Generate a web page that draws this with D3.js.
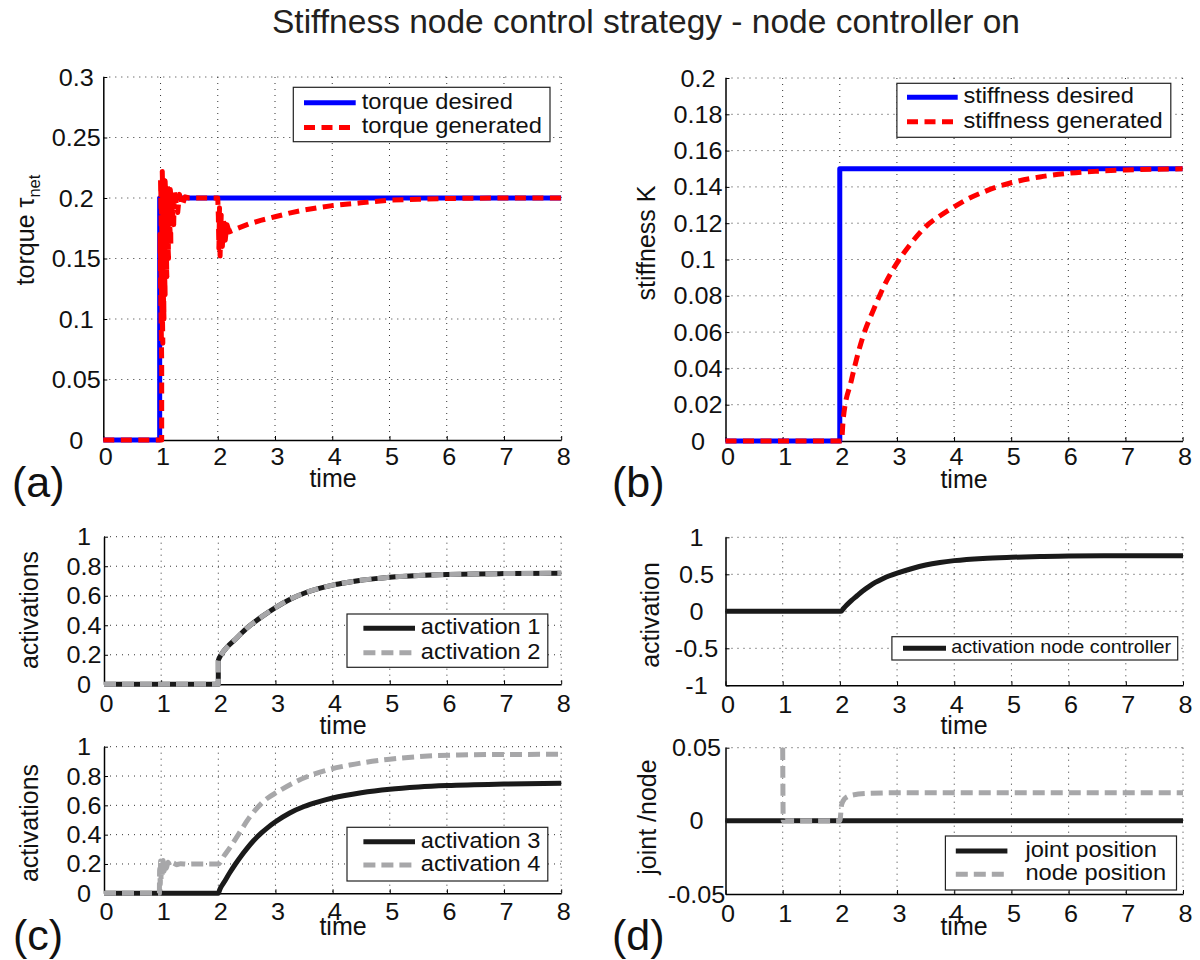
<!DOCTYPE html>
<html lang="en">
<head>
<meta charset="UTF-8">
<title>Stiffness node control strategy</title>
<script src="https://d3js.org/d3.v7.min.js"></script>
<style>
  body { margin: 0; background: #fff; }
  svg { display: block; font-family: "Liberation Sans", Arial, Helvetica, sans-serif; }
  .grid { stroke: #333; stroke-width: 1; stroke-dasharray: 1,5; }
  .domain { stroke: #000; stroke-width: 1.5; }
  .tick line { stroke: #000; stroke-width: 1; }
  .tick text { font-size: 24px; fill: #111; }
</style>
</head>
<body>
<div class="main"></div>
<script>
// ---- data ----
const timeTicks = [0, 1, 2, 3, 4, 5, 6, 7, 8];

// (a) torque
const torqueTicks = [0, 0.05, 0.1, 0.15, 0.2, 0.25, 0.3];
const torqueDesired = [[0, 0], [0.985, 0], [0.985, 0.2], [8, 0.2]];
const torqueGenerated = [
  [0, 0], [1.02, 0], [1.02, 0.065], [0.99, 0.17], [1.04, 0.08], [1.0, 0.215], [1.06, 0.1],
  [1.03, 0.222], [1.08, 0.12], [1.05, 0.218], [1.11, 0.135], [1.08, 0.214], [1.14, 0.15],
  [1.12, 0.21], [1.18, 0.162], [1.17, 0.207], [1.23, 0.178], [1.24, 0.205], [1.3, 0.188],
  [1.33, 0.203], [1.38, 0.194], [1.43, 0.201], [1.5, 0.2], [2.0, 0.2], [2.01, 0.185],
  [2.02, 0.158], [2.03, 0.192], [2.04, 0.152], [2.06, 0.186], [2.08, 0.16], [2.1, 0.182],
  [2.13, 0.165], [2.16, 0.178], [2.2, 0.172], [2.35, 0.175], [2.54, 0.1785], [2.75, 0.1815],
  [3.0, 0.1845], [3.25, 0.1875], [3.5, 0.19], [3.75, 0.192], [4.0, 0.1937], [4.5, 0.196],
  [5.0, 0.1982], [5.5, 0.199], [6.0, 0.1996], [7.0, 0.2], [8.0, 0.2]
];

// (b) stiffness
const stiffTicks = [0, 0.02, 0.04, 0.06, 0.08, 0.1, 0.12, 0.14, 0.16, 0.18, 0.2];
const stiffDesired = [[0, 0], [2.0, 0], [2.0, 0.15], [8, 0.15]];
const stiffGenerated = [
  [0, 0], [2.03, 0], [2.06, 0.012], [2.2, 0.033], [2.4, 0.057], [2.6, 0.073], [2.8, 0.087],
  [3.0, 0.098], [3.25, 0.109], [3.5, 0.118], [3.75, 0.124], [4.0, 0.129], [4.25, 0.1335],
  [4.5, 0.137], [4.75, 0.14], [5.0, 0.1423], [5.5, 0.1455], [6.0, 0.1475], [6.5, 0.1486],
  [7.0, 0.1493], [7.5, 0.1497], [8.0, 0.15]
];

// (c) muscle activations
const actTicks = [0, 0.2, 0.4, 0.6, 0.8, 1];
const activation1 = [
  [0, 0], [2.0, 0], [2.0, 0.16], [2.05, 0.2], [2.15, 0.25], [2.3, 0.305], [2.5, 0.38],
  [2.75, 0.455], [3.0, 0.52], [3.25, 0.575], [3.5, 0.617], [3.75, 0.648], [4.0, 0.672],
  [4.25, 0.69], [4.5, 0.705], [4.75, 0.716], [5.0, 0.725], [5.5, 0.737], [6.0, 0.744],
  [6.5, 0.748], [7.0, 0.75], [8.0, 0.752]
];
const activation2 = [
  [0, 0], [2.0, 0], [2.0, 0.16], [2.05, 0.2], [2.15, 0.25], [2.3, 0.305], [2.5, 0.38],
  [2.75, 0.455], [3.0, 0.52], [3.25, 0.575], [3.5, 0.617], [3.75, 0.648], [4.0, 0.672],
  [4.25, 0.69], [4.5, 0.705], [4.75, 0.716], [5.0, 0.725], [5.5, 0.737], [6.0, 0.744],
  [6.5, 0.748], [7.0, 0.75], [8.0, 0.752]
];
const activation3 = [
  [0, 0], [2.0, 0], [2.03, 0.03], [2.1, 0.075], [2.2, 0.14], [2.3, 0.2], [2.4, 0.255],
  [2.5, 0.305], [2.62, 0.36], [2.75, 0.41], [2.87, 0.45], [3.0, 0.488], [3.25, 0.548],
  [3.5, 0.592], [3.75, 0.624], [4.0, 0.65], [4.5, 0.686], [5.0, 0.71], [5.5, 0.725],
  [6.0, 0.735], [7.0, 0.745], [8.0, 0.75]
];
const activation4 = [
  [0, 0], [0.97, 0], [0.97, 0.05], [0.975, 0.17], [0.985, 0.06], [0.99, 0.22], [1.0, 0.09],
  [1.01, 0.227], [1.02, 0.12], [1.035, 0.223], [1.05, 0.15], [1.07, 0.218], [1.09, 0.17],
  [1.12, 0.212], [1.16, 0.185], [1.21, 0.207], [1.27, 0.195], [1.34, 0.202], [1.45, 0.199],
  [1.6, 0.2], [2.0, 0.2], [2.1, 0.255], [2.2, 0.31], [2.35, 0.4], [2.55, 0.52], [2.8, 0.63],
  [3.05, 0.695], [3.4, 0.77], [3.9, 0.84], [4.3, 0.875], [5.0, 0.915], [5.6, 0.935],
  [6.2, 0.943], [7.0, 0.947], [8.0, 0.948]
];

// (d) node controller
const nodeActTicks = [-1, -0.5, 0, 0.5, 1];
const nodeActivation = [
  [0, 0], [2.02, 0], [2.06, 0.035], [2.12, 0.085], [2.2, 0.145], [2.3, 0.21], [2.4, 0.275],
  [2.5, 0.33], [2.62, 0.39], [2.75, 0.44], [2.87, 0.48], [3.0, 0.515], [3.25, 0.575],
  [3.5, 0.625], [3.75, 0.66], [4.0, 0.685], [4.5, 0.715], [5.0, 0.73], [5.5, 0.74],
  [6.0, 0.747], [7.0, 0.75], [8.0, 0.75]
];
const posTicks = [-0.05, 0, 0.05];
const jointPosition = [[0, 0], [8, 0]];
const nodePosition = [
  [1.0, 0.05], [1.01, 0], [2.0, 0], [2.03, 0.011], [2.08, 0.015], [2.2, 0.0175],
  [2.5, 0.0188], [3.0, 0.0192], [8.0, 0.0192]
];

const BLUE = "#0000ff", RED = "#ff0000", BLACK = "#1a1a1a", GRAY = "#a7a7a9";
const RED_DASH = "11,6.5", GRAY_DASH = "12,6";
const SX = 1.05;   // the figure's text is a bit wide

const svg = d3.select(".main").append("svg")
  .attr("width", 1200).attr("height", 960);

function addText(parent, x, y, str, size, anchor, sx) {
  return parent.append("text")
    .attr("transform", `translate(${x},${y}) scale(${sx || 1},1)`)
    .attr("text-anchor", anchor || "start")
    .style("font-size", size + "px")
    .style("fill", "#111")
    .text(str);
}

function drawPanel(p) {
  const x = d3.scaleLinear().domain([0, 8]).range([p.left, p.right]);
  const y = d3.scaleLinear().domain([p.yTicks[0], p.yTicks[p.yTicks.length - 1]]).range([p.bottom, p.top]);
  const g = svg.append("g");

  // dotted grid (top / right edges are grid lines too, box is off)
  g.append("g").selectAll("line").data(timeTicks.slice(1)).join("line")
    .attr("class", "grid")
    .attr("x1", d => x(d)).attr("x2", d => x(d))
    .attr("y1", p.top).attr("y2", p.bottom);
  g.append("g").selectAll("line").data(p.yTicks.slice(1)).join("line")
    .attr("class", "grid")
    .attr("x1", p.left).attr("x2", p.right)
    .attr("y1", d => y(d)).attr("y2", d => y(d));

  const xAxis = d3.axisBottom(x).tickValues(timeTicks).tickSize(-4).tickSizeOuter(0).tickFormat(String);
  const gx = g.append("g").attr("transform", `translate(0,${p.bottom})`).call(xAxis)
    .attr("font-size", null).attr("font-family", null);
  gx.selectAll(".tick text").attr("y", null).attr("dy", null)
    .attr("transform", `translate(2,${p.xTickBase}) scale(${SX},1)`);

  const yAxis = d3.axisLeft(y).tickValues(p.yTicks).tickSize(-4).tickSizeOuter(0).tickFormat(String);
  const gy = g.append("g").attr("transform", `translate(${p.left},0)`).call(yAxis)
    .attr("font-size", null).attr("font-family", null);
  gy.selectAll(".tick text").attr("x", null).attr("dy", null)
    .attr("text-anchor", "middle")
    .attr("transform", `translate(${p.yTickCx},8) scale(${SX},1)`);

  p.series.forEach(s => {
    const line = d3.line().x(d => x(d[0])).y(d => y(d[1]))
      .curve(s.noisy ? d3.curveLinear : d3.curveMonotoneX);
    g.append("path").datum(s.data)
      .attr("d", line)
      .attr("fill", "none")
      .attr("stroke", s.color)
      .attr("stroke-width", 5)
      .attr("stroke-linejoin", "round")
      .attr("stroke-dasharray", s.dash || null);
  });

  // axis labels
  addText(g, p.xlabel[0], p.xlabel[1], "time", 25, "middle");
  const yl = g.append("text")
    .attr("transform", `translate(${p.ylabel[0]},${p.ylabel[1]}) rotate(-90)`)
    .attr("text-anchor", "middle")
    .style("font-size", "25px").style("fill", "#111");
  yl.append("tspan").text(p.ylabelText);
  if (p.ylabelSub) {
    yl.append("tspan").attr("dy", 6).style("font-size", "16.5px").text(p.ylabelSub);
  }

  // legend
  const L = p.legend;
  const lg = g.append("g");
  lg.append("rect")
    .attr("x", L.box[0]).attr("y", L.box[1]).attr("width", L.box[2]).attr("height", L.box[3])
    .attr("fill", "#fff").attr("stroke", "#222").attr("stroke-width", 1.2);
  p.series.filter(s => s.name).forEach((s, i) => {
    const ry = L.rows[i];
    lg.append("line")
      .attr("x1", L.line[0]).attr("x2", L.line[1]).attr("y1", ry).attr("y2", ry)
      .attr("stroke", s.color).attr("stroke-width", 5)
      .attr("stroke-dasharray", s.dash || null);
    addText(lg, L.textX, ry + 0.27 * L.font, s.name, L.font, "start", 1.1);
  });

  if (p.tag) addText(svg, p.tag[0], p.tag[1], p.tag[2], 43, "start");
}

// title
addText(svg, 646, 33, "Stiffness node control strategy - node controller on", 33.5, "middle")
  .style("fill", "#231f20");

drawPanel({
  left: 103.3, right: 561.2, top: 77, bottom: 440, yTicks: torqueTicks,
  yTickCx: -27, xTickBase: 25, xlabel: [333, 487],
  ylabel: [34, 230], ylabelText: "torque \u03c4", ylabelSub: "net",
  series: [
    { data: torqueDesired, color: BLUE, name: "torque desired" },
    { data: torqueGenerated, color: RED, dash: RED_DASH, name: "torque generated", noisy: true }
  ],
  legend: { box: [293.3, 87.3, 256.7, 54.4], line: [304, 355.7], textX: 361.7, rows: [102.7, 127.5], font: 21.5 },
  tag: [12, 497, "(a)"]
});

drawPanel({
  left: 725.5, right: 1182.6, top: 78, bottom: 441, yTicks: stiffTicks,
  yTickCx: -27.5, xTickBase: 24, xlabel: [964, 488],
  ylabel: [655, 243], ylabelText: "stiffness K",
  series: [
    { data: stiffDesired, color: BLUE, name: "stiffness desired" },
    { data: stiffGenerated, color: RED, dash: RED_DASH, name: "stiffness generated" }
  ],
  legend: { box: [896.9, 83.3, 273.9, 54], line: [907, 957.7], textX: 963.4, rows: [97.3, 121.7], font: 21.5 },
  tag: [612, 497, "(b)"]
});

drawPanel({
  left: 104, right: 561.2, top: 536.7, bottom: 684.3, yTicks: actTicks,
  yTickCx: -20, xTickBase: 27.5, xlabel: [343, 734],
  ylabel: [38, 610], ylabelText: "activations",
  series: [
    { data: activation1, color: BLACK, name: "activation 1" },
    { data: activation2, color: GRAY, dash: GRAY_DASH, name: "activation 2" }
  ],
  legend: { box: [347, 614, 200.8, 53.3], line: [363.4, 415], textX: 420.8, rows: [628.3, 652.7], font: 21.5 }
});

drawPanel({
  left: 104, right: 561.2, top: 746.7, bottom: 893.3, yTicks: actTicks,
  yTickCx: -20, xTickBase: 27, xlabel: [343, 935],
  ylabel: [38, 823], ylabelText: "activations",
  series: [
    { data: activation3, color: BLACK, name: "activation 3" },
    { data: activation4, color: GRAY, dash: GRAY_DASH, name: "activation 4" }
  ],
  legend: { box: [347, 827.3, 200.8, 53.7], line: [363.4, 415], textX: 420.8, rows: [841.7, 865], font: 21.5 },
  tag: [13, 950, "(c)"]
});

drawPanel({
  left: 725.5, right: 1183, top: 537.3, bottom: 685.3, yTicks: nodeActTicks,
  yTickCx: -29, xTickBase: 28, xlabel: [964, 734],
  ylabel: [659, 615], ylabelText: "activation",
  series: [
    { data: nodeActivation, color: BLACK, name: "activation node controller" }
  ],
  legend: { box: [891.9, 636.7, 285.8, 23.3], line: [903, 946], textX: 951.2, rows: [648.3], font: 18 }
});

drawPanel({
  left: 725.5, right: 1183, top: 747.7, bottom: 894, yTicks: posTicks,
  yTickCx: -29, xTickBase: 28, xlabel: [964, 935],
  ylabel: [656, 817], ylabelText: "joint /node",
  series: [
    { data: jointPosition, color: BLACK, name: "joint position" },
    { data: nodePosition, color: GRAY, dash: GRAY_DASH, name: "node position" }
  ],
  legend: { box: [945.4, 836, 231.1, 54], line: [955.8, 1007.4], textX: 1025.4, rows: [851, 874.3], font: 21.5 },
  tag: [612, 950, "(d)"]
});
</script>
</body>
</html>
